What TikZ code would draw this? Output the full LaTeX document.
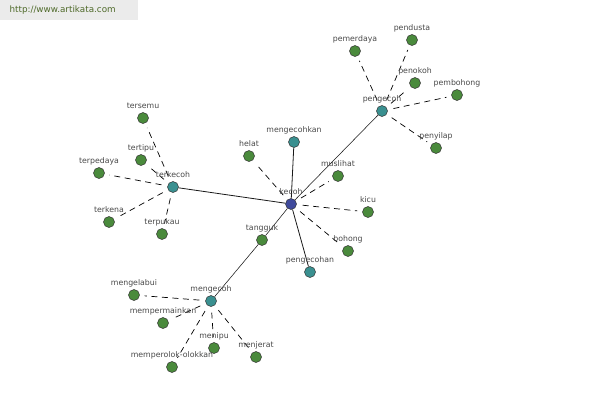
\documentclass[tikz,border=0pt]{standalone}
\usepackage{fontspec}
\setsansfont{DejaVu Sans}
\usepackage{tikz}
\usetikzlibrary{backgrounds}

\definecolor{leaf}{HTML}{4A8A3C}
\definecolor{hub}{HTML}{3A9090}
\definecolor{root}{HTML}{3F4A9C}
\definecolor{ink}{HTML}{484848}
\definecolor{site}{HTML}{4F6A2A}

\begin{document}
\begin{tikzpicture}[x=1pt,y=-1pt,
    dot/.style={circle,draw=black!80,line width=0.5pt,minimum size=11pt,inner sep=0pt},
    word/.style={dot,fill=leaf},
    hubword/.style={dot,fill=hub},
    rootword/.style={dot,fill=root},
    lbl/.style={font=\sffamily\fontsize{7.8}{8}\selectfont,text=ink,inner sep=0pt,
        text height=5.5pt,text depth=1.5pt,label distance=2pt},
    link/.style={line width=0.8pt,black!90},
    thinlink/.style={line width=0.55pt,black!90},
    weak/.style={line width=0.7pt,black,dash pattern=on 6pt off 4.5pt,shorten <=6pt,shorten >=5pt}]
    \useasboundingbox (0,0) rectangle (600,400);
    \fill [black!8] (0,0) rectangle (138,20);
    \node [font=\sffamily\fontsize{8.8}{9}\selectfont,text=site,anchor=west] (site) at (6,10) {http://www.artikata.com};
    % main hubs
    \node [rootword,label={[lbl]above:kecoh}] (kecoh) at (291,204) {};
    \node [hubword,label={[lbl]above:pengecoh}] (pengecoh) at (382,111) {};
    \node [hubword,label={[lbl]above:terkecoh}] (terkecoh) at (173,187) {};
    \node [hubword,label={[lbl]above:mengecoh}] (mengecoh) at (211,301) {};
    \node [hubword,label={[lbl]above:mengecohkan}] (mengecohkan) at (294,142) {};
    \node [hubword,label={[lbl]above:pengecohan}] (pengecohan) at (310,272) {};
    \node [word,label={[lbl]above:tangguk}] (tangguk) at (262,240) {};
    % words round kecoh
    \node [word,label={[lbl]above:helat}] (helat) at (249,156) {};
    \node [word,label={[lbl]above:muslihat}] (muslihat) at (338,176) {};
    \node [word,label={[lbl]above:kicu}] (kicu) at (368,212) {};
    \node [word,label={[lbl]above:bohong}] (bohong) at (348,251) {};
    % words round pengecoh
    \node [word,label={[lbl]above:pemerdaya}] (pemerdaya) at (355,51) {};
    \node [word,label={[lbl]above:pendusta}] (pendusta) at (412,40) {};
    \node [word,label={[lbl]above:penokoh}] (penokoh) at (415,83) {};
    \node [word,label={[lbl]above:pembohong}] (pembohong) at (457,95) {};
    \node [word,label={[lbl]above:penyilap}] (penyilap) at (436,148) {};
    % words round terkecoh
    \node [word,label={[lbl]above:tersemu}] (tersemu) at (143,118) {};
    \node [word,label={[lbl]above:tertipu}] (tertipu) at (141,160) {};
    \node [word,label={[lbl]above:terpedaya}] (terpedaya) at (99,173) {};
    \node [word,label={[lbl]above:terkena}] (terkena) at (109,222) {};
    \node [word,label={[lbl]above:terpukau}] (terpukau) at (162,234) {};
    % words round mengecoh
    \node [word,label={[lbl]above:mengelabui}] (mengelabui) at (134,295) {};
    \node [word,label={[lbl]above:mempermainkan}] (mempermainkan) at (163,323) {};
    \node [word,label={[lbl]above:memperolok-olokkan}] (memperolok) at (172,367) {};
    \node [word,label={[lbl]above:menipu}] (menipu) at (214,348) {};
    \node [word,label={[lbl]above:menjerat}] (menjerat) at (256,357) {};

    \begin{pgfonlayer}{background}
    \draw [thinlink] (kecoh) -- (pengecoh);
    \draw [link] (kecoh) -- (terkecoh);
    \draw [link] (kecoh) -- (mengecohkan);
    \draw [link] (kecoh) -- (pengecohan);
    \draw [thinlink] (kecoh) -- (tangguk);
    \draw [thinlink] (tangguk) -- (mengecoh);
    \draw [weak] (kecoh) -- (helat);
    \draw [weak] (kecoh) -- (muslihat);
    \draw [weak] (kecoh) -- (kicu);
    \draw [weak] (kecoh) -- (bohong);
    \draw [weak] (pengecoh) -- (pemerdaya);
    \draw [weak] (pengecoh) -- (pendusta);
    \draw [weak] (pengecoh) -- (penokoh);
    \draw [weak] (pengecoh) -- (pembohong);
    \draw [weak] (pengecoh) -- (penyilap);
    \draw [weak] (terkecoh) -- (tersemu);
    \draw [weak] (terkecoh) -- (tertipu);
    \draw [weak] (terkecoh) -- (terpedaya);
    \draw [weak] (terkecoh) -- (terkena);
    \draw [weak] (terkecoh) -- (terpukau);
    \draw [weak] (mengecoh) -- (mengelabui);
    \draw [weak] (mengecoh) -- (mempermainkan);
    \draw [weak] (mengecoh) -- (memperolok);
    \draw [weak] (mengecoh) -- (menipu);
    \draw [weak] (mengecoh) -- (menjerat);
    \end{pgfonlayer}
    % \draw [red] (kecoh) circle (40pt);
\end{tikzpicture}
\end{document}
